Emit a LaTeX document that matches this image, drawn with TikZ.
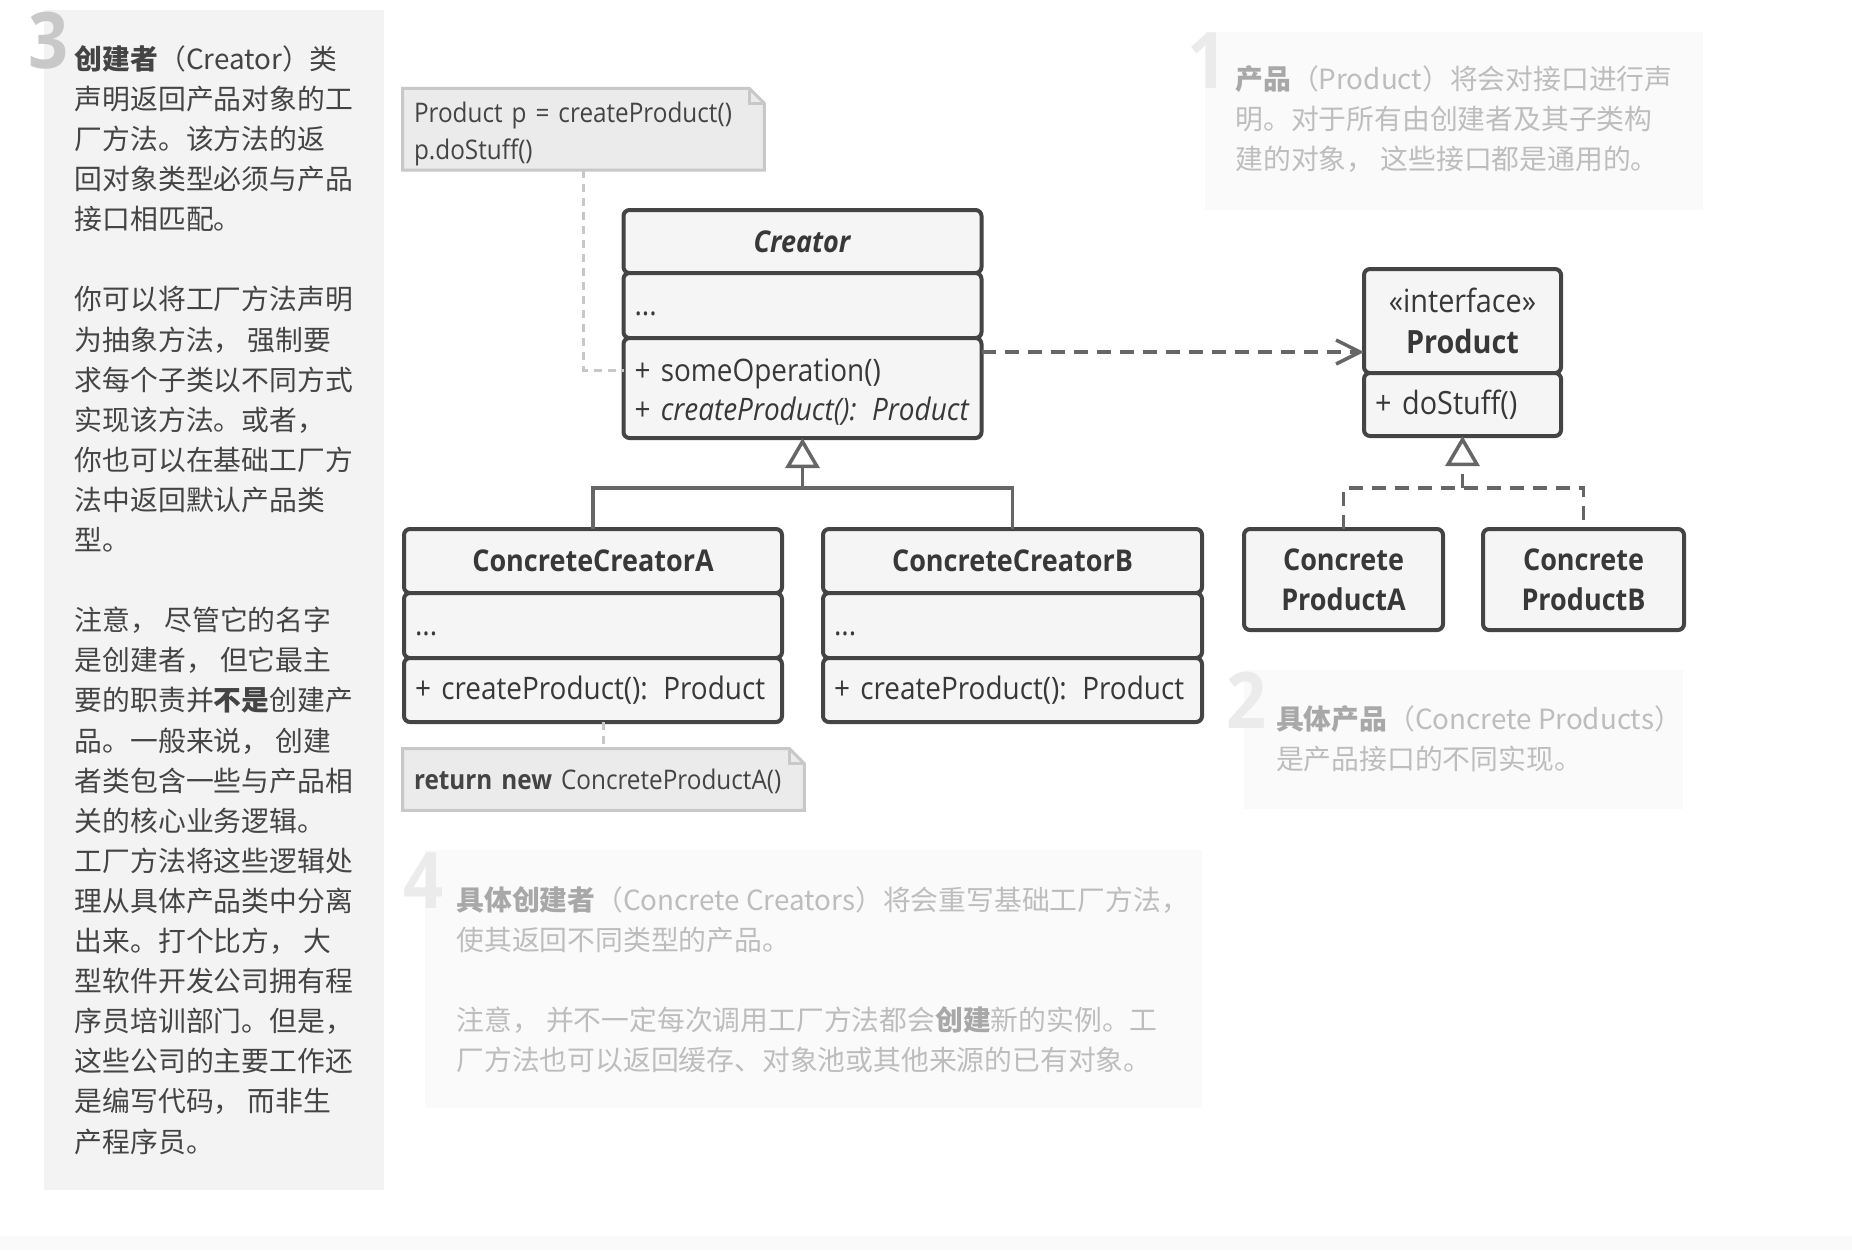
\documentclass[tikz,border=0pt]{standalone}
\usepackage{fontspec}
\setmainfont{Noto Sans CJK SC}
\newfontfamily\umlfont[FakeStretch=0.9]{Open Sans}
\usepackage{xcolor}
\definecolor{umlline}{HTML}{444444}
\definecolor{umlfill}{HTML}{F5F5F5}
\definecolor{umltext}{HTML}{383838}
\definecolor{linkgray}{HTML}{666666}
\definecolor{notefill}{HTML}{EBEBEB}
\definecolor{noteline}{HTML}{C8C8C8}
\definecolor{sidefill}{HTML}{F3F3F3}
\definecolor{sidetext}{HTML}{444444}
\definecolor{sidenum}{HTML}{C8C8C8}
\definecolor{faintfill}{HTML}{FAFAFA}
\definecolor{fainttext}{HTML}{BDBDBD}
\definecolor{faintbold}{HTML}{A8A8A8}
\definecolor{faintnum}{HTML}{EBEBEB}
\usetikzlibrary{positioning,arrows.meta,calc,backgrounds}

\begin{document}
\begin{tikzpicture}[x=0.5pt, y=-0.5pt,
  umlf/.style={font=\umlfont\fontsize{15.5}{19.5}\selectfont, text=umltext},
  cls/.style={umlf, draw=umlline, line width=2pt, rounded corners=3pt, fill=umlfill, inner xsep=5.5pt, inner ysep=0pt, outer sep=0pt},
  clshead/.style={cls, align=center, font=\umlfont\fontsize{15}{20}\selectfont},
  clsbody/.style={cls, align=left},
  clsattr/.style={clsbody, text height=10pt, text depth=0pt},
  note/.style={font=\umlfont\fontsize{13.5}{18.5}\selectfont, text=sidetext, align=left, inner xsep=5.5pt, inner ysep=0pt},
  noteshape/.style={fill=notefill, draw=noteline, line width=1.5pt},
  notelink/.style={draw=noteline, line width=1.5pt, dash pattern=on 4pt off 3pt},
  gen/.style={draw=linkgray, line width=1.75pt},
  genhead/.style={gen, -{Triangle[open, length=15pt, width=17pt, line width=1.75pt]}},
  realize/.style={gen, dash pattern=on 7pt off 4.5pt},
  realizehead/.style={realize, -{Triangle[open, length=15pt, width=17pt, line width=1.75pt]}},
  dep/.style={realize, -{Straight Barb[length=12pt, width=12pt, line width=1.75pt]}},
  sidepanel/.style={fill=sidefill, inner sep=0pt, anchor=north west},
  faintpanel/.style={fill=faintfill, inner sep=0pt, anchor=north west},
  bignum/.style={font=\umlfont\bfseries\fontsize{39}{39}\selectfont, inner sep=0pt, anchor=base west},
  sidetxt/.style={font=\fontsize{13.9}{20.05}\selectfont, text=sidetext, align=left, inner sep=0pt, anchor=north west},
  fainttxt/.style={sidetxt, text=fainttext},
]
\useasboundingbox (0,0) rectangle (1852,1250);
\fill[faintfill] (0,1236) rectangle (1852,1250);

% explanation panels
\node[sidepanel, minimum width=170pt, minimum height=590.3pt] (creatorPanel) at (43.7,9.4) {};
\node[bignum, text=sidenum] (num3) at (28,68) {3};
\node[sidetxt] (creatorText) at (74.4,45) {%
\textbf{创建者}（Creator）类\\
声明返回产品对象的工\\
厂方法。该方法的返\\
回对象类型必须与产品\\
接口相匹配。\\
~\\
你可以将工厂方法声明\\
为抽象方法， 强制要\\
求每个子类以不同方式\\
实现该方法。或者，\\
你也可以在基础工厂方\\
法中返回默认产品类\\
型。\\
~\\
注意， 尽管它的名字\\
是创建者， 但它最主\\
要的职责并\textbf{不是}创建产\\
品。一般来说， 创建\\
者类包含一些与产品相\\
关的核心业务逻辑。\\
工厂方法将这些逻辑处\\
理从具体产品类中分离\\
出来。打个比方， 大\\
型软件开发公司拥有程\\
序员培训部门。但是，\\
这些公司的主要工作还\\
是编写代码， 而非生\\
产程序员。};

\node[faintpanel, minimum width=249pt, minimum height=89pt] (productPanel) at (1205,32) {};
\node[bignum, text=faintnum] (num1) at (1187,88) {1};
\node[fainttxt] (productText) at (1235,65) {%
\textcolor{faintbold}{\textbf{产品}}（Product）将会对接口进行声\\
明。对于所有由创建者及其子类构\\
建的对象， 这些接口都是通用的。};

\node[faintpanel, minimum width=219.5pt, minimum height=69.5pt] (concProdPanel) at (1244,670) {};
\node[bignum, text=faintnum] (num2) at (1226,728) {2};
\node[fainttxt] (concProdText) at (1275.6,705) {%
\textcolor{faintbold}{\textbf{具体产品}}（Concrete Products）\\
是产品接口的不同实现。};

\node[faintpanel, minimum width=388.5pt, minimum height=129pt] (concCreatorPanel) at (425,850) {};
\node[bignum, text=faintnum] (num4) at (403,908) {4};
\node[fainttxt] (concCreatorText) at (456,886) {%
\textcolor{faintbold}{\textbf{具体创建者}}（Concrete Creators）将会重写基础工厂方法，\\
使其返回不同类型的产品。\\
~\\
注意， 并不一定每次调用工厂方法都会\textcolor{faintbold}{\textbf{创建}}新的实例。工\\
厂方法也可以返回缓存、对象池或其他来源的已有对象。};

% creator side
\node[clshead, text width=168pt, minimum height=31.5pt] (creatorHead) at (802.5,241.5) {\textbf{\textit{Creator}}};
\node[clsattr, text width=168pt, minimum height=32.5pt, below=0pt of creatorHead] (creatorAttr) {...};
\node[clsbody, text width=168pt, minimum height=50pt, below=0pt of creatorAttr] (creatorOps) {\rule{0pt}{15.3pt}+ someOperation()\\+ \textit{createProduct(): Product}};

\node[clshead, text width=178pt, minimum height=32pt] (ccaHead) at (593,561) {\textbf{ConcreteCreatorA}};
\node[clsattr, text width=178pt, minimum height=32.5pt, below=0pt of ccaHead] (ccaAttr) {...};
\node[clsbody, text width=178pt, minimum height=32pt, below=0pt of ccaAttr] (ccaOps) {+ createProduct(): Product};

\node[clshead, text width=178.5pt, minimum height=32pt] (ccbHead) at (1012.5,561) {\textbf{ConcreteCreatorB}};
\node[clsattr, text width=178.5pt, minimum height=32.5pt, below=0pt of ccbHead] (ccbAttr) {...};
\node[clsbody, text width=178.5pt, minimum height=32pt, below=0pt of ccbAttr] (ccbOps) {+ createProduct(): Product};

% product side
\node[clshead, text width=87.5pt, minimum height=52pt, font=\umlfont\fontsize{16}{20.5}\selectfont] (prodHead) at (1462.5,321) {«interface»\\\textbf{Product}};
\node[clsbody, text width=87.5pt, minimum height=31.5pt, font=\umlfont\fontsize{16}{20}\selectfont] (prodOps) [below=0pt of prodHead] {+ doStuff()};

\node[clshead, text width=88.5pt, minimum height=50.5pt] (cpaBox) at (1343.5,579.5) {\textbf{Concrete}\\\textbf{ProductA}};
\node[clshead, text width=89.5pt, minimum height=50.5pt] (cpbBox) at (1583.5,579.5) {\textbf{Concrete}\\\textbf{ProductB}};

% notes
\node[note, minimum width=180.5pt, minimum height=40.5pt, text width=169.5pt] (note1) at (583.5,129.3) {\rule{0pt}{15pt}Product p = createProduct()\\p.doStuff()};
\node[note, minimum width=200.5pt, minimum height=30.5pt, text width=189.5pt, text depth=0pt] (note2) at (603.5,779.5) {\textbf{return new} ConcreteProductA()};
\begin{scope}[on background layer]
  \foreach \n in {note1,note2} {
    \filldraw[noteshape] (\n.south west) -- (\n.north west) -- ([xshift=-7.5pt]\n.north east)
      -- ([yshift=-7.5pt]\n.north east) -- (\n.south east) -- cycle;
    \draw[noteshape, fill=none] ([xshift=-7.5pt]\n.north east) -- ([xshift=-7.5pt,yshift=-7.5pt]\n.north east)
      -- ([yshift=-7.5pt]\n.north east);
  }
\end{scope}

% connectors
\coordinate (someop) at (600,370);
\coordinate (depline) at (1100,352);
\coordinate (cjoin) at (802.5,488);
\coordinate (pjoin) at (1462.5,488);
\draw[notelink] (note1.south) |- (creatorOps.west |- someop);
\draw[notelink] (ccaOps.south -| note2.north) -- (note2.north);
\draw[dep] (creatorOps.east |- depline) -- (prodHead.west |- depline);
\draw[gen] (ccaHead.north) |- (cjoin) -| (ccbHead.north);
\draw[genhead] (cjoin) -- (creatorOps.south);
\draw[realize] (cpaBox.north) |- (pjoin) -| (cpbBox.north);
\draw[realizehead] (pjoin) -- (prodOps.south);
\end{tikzpicture}
\end{document}
